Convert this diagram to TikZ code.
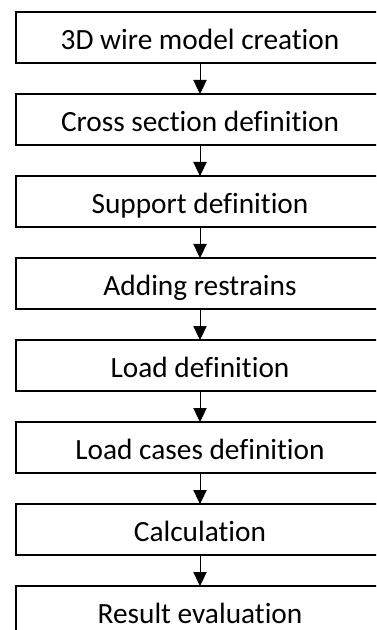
\documentclass[tikz,border=0pt]{standalone}
\usepackage{fontspec}
\setmainfont{Carlito}[Ligatures={NoCommon}]
\usetikzlibrary{arrows.meta, positioning}

\begin{document}
\begin{tikzpicture}[
    x=0.75pt, y=0.75pt,
    node distance=23.25pt,
    every node/.style={draw, line width=1.4pt, align=center, font=\fontsize{22}{26}\selectfont, minimum width=276pt, minimum height=38.25pt, inner sep=0pt, outer sep=0pt, text height=18.5pt, text depth=0pt},
    >={Triangle[length=10.5pt, width=10pt]}
]
    \useasboundingbox (0,0) rectangle (376,-630);
    \clip (0,0) rectangle (376,-630);

    \node (a) at (200,-37.5) {3D wire model creation};
    \node (b) [below=of a] {Cross section definition};
    \node (c) [below=of b] {Support definition};
    \node (d) [below=of c] {Adding restrains};
    \node (e) [below=of d] {Load definition};
    \node (f) [below=of e] {Load cases definition};
    \node (g) [below=of f] {Calculation};
    \node (h) [below=of g] {Result evaluation};

    \draw[->, line width=0.75pt] (a) -- (b);
    \draw[->, line width=0.75pt] (b) -- (c);
    \draw[->, line width=0.75pt] (c) -- (d);
    \draw[->, line width=0.75pt] (d) -- (e);
    \draw[->, line width=0.75pt] (e) -- (f);
    \draw[->, line width=0.75pt] (f) -- (g);
    \draw[->, line width=0.75pt] (g) -- (h);
\end{tikzpicture}
\end{document}
